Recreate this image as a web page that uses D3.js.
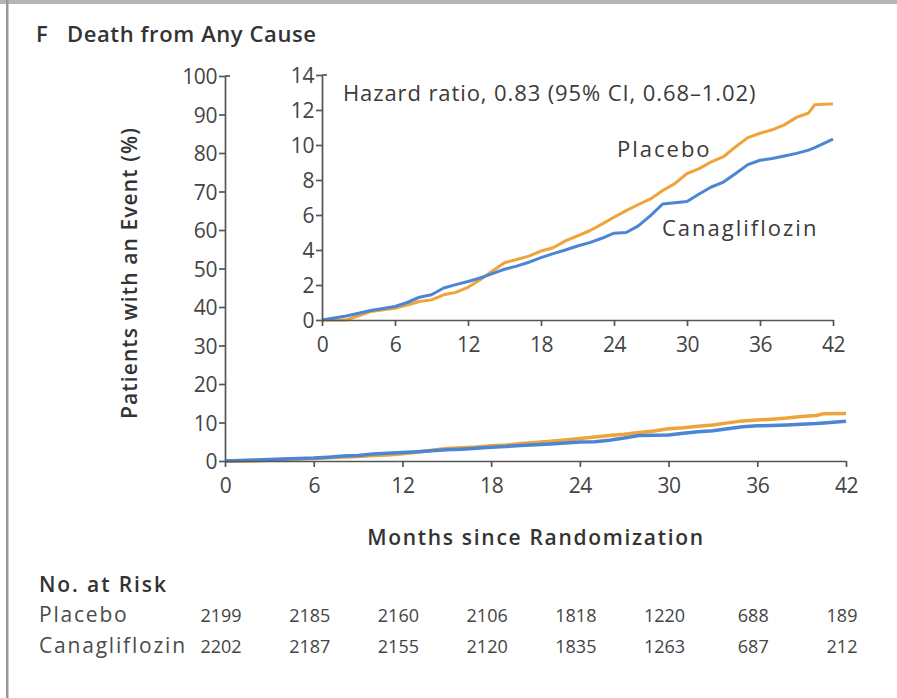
<!DOCTYPE html>
<html>
<head>
<meta charset="utf-8">
<script src="https://cdnjs.cloudflare.com/ajax/libs/d3/7.8.5/d3.min.js"></script>
<style>
  body { margin: 0; background: #fff; }
  svg text { fill: #333; }
  .title { font-family: "Open Sans", sans-serif; font-weight: 600; font-size: 22px; letter-spacing: 0.6px; }
  .lab { font-family: "Open Sans", sans-serif; font-weight: 600; font-size: 21px; letter-spacing: 1.5px; }
  .note { font-family: "Open Sans", sans-serif; font-size: 22px; letter-spacing: 0.9px; fill: #3a3a3a; }
  .grp { font-family: "Open Sans", sans-serif; font-size: 22px; letter-spacing: 2px; fill: #3a3a3a; }
  .row { font-family: "Open Sans", sans-serif; font-size: 21px; letter-spacing: 1.8px; fill: #4a4a4a; }
  .num { font-family: "Open Sans", sans-serif; font-size: 18px; fill: #444; }
  .axis path, .axis line { stroke: #555; stroke-width: 1.7; }
  .axis text { font-family: "Open Sans", sans-serif; font-size: 21px; fill: #444; letter-spacing: -0.4px; }
</style>
</head>
<body>
<div id="chart"></div>
<script>
// months and cumulative incidence (%)
var months = [0, 2, 4, 6, 7, 8, 9, 10, 11, 12, 13, 14, 15, 16, 17, 18, 19, 20, 21, 22, 23, 24,
              25, 26, 27, 28, 29, 30, 31, 32, 33, 34, 35, 36, 37, 38, 39, 40, 40.5, 42];
var placebo = [0, 0, 0.48, 0.67, 0.85, 1.06, 1.15, 1.44, 1.58, 1.87, 2.3, 2.8, 3.27, 3.46, 3.65, 3.94, 4.13, 4.52,
               4.81, 5.1, 5.48, 5.87, 6.25, 6.6, 6.92, 7.4, 7.79, 8.37, 8.65, 9.04, 9.33, 9.9, 10.42, 10.67,
               10.87, 11.15, 11.58, 11.83, 12.3, 12.35];
var cana = [0, 0.23, 0.54, 0.77, 1.0, 1.3, 1.44, 1.83, 2.02, 2.2, 2.4, 2.65, 2.9, 3.08, 3.3, 3.56, 3.79, 4.0,
            4.23, 4.42, 4.67, 4.96, 5.0, 5.38, 5.96, 6.63, 6.7, 6.77, 7.2, 7.6, 7.88, 8.37, 8.88, 9.13,
            9.23, 9.37, 9.52, 9.71, 9.85, 10.33];

var xTicks = [0, 6, 12, 18, 24, 30, 36, 42];
var mainYTicks = [0, 10, 20, 30, 40, 50, 60, 70, 80, 90, 100];
var insetYTicks = [0, 2, 4, 6, 8, 10, 12, 14];

var riskGroups = ["Placebo", "Canagliflozin"];
var riskPlacebo = [2199, 2185, 2160, 2106, 1818, 1220, 688, 189];
var riskCana = [2202, 2187, 2155, 2120, 1835, 1263, 687, 212];

var colors = {placebo: "#eea43b", cana: "#4a86d4"};

var width = 897, height = 698;
var svg = d3.select("#chart").append("svg")
    .attr("width", width)
    .attr("height", height);

// panel frame (top and left rule)
svg.append("rect").attr("x", 0).attr("y", 0).attr("width", width).attr("height", 4).attr("fill", "#b5b5b5");
svg.append("rect").attr("x", 6).attr("y", 0).attr("width", 2.5).attr("height", height).attr("fill", "#9a9a9a");

svg.append("text").attr("class", "title").attr("x", 36).attr("y", 42).text("F");
svg.append("text").attr("class", "title").attr("x", 67).attr("y", 42).text("Death from Any Cause");

function series(vals) {
    return months.map(function(m, i) { return {t: m, v: vals[i]}; });
}

function drawPanel(g, x, y, yTicks, lw) {
    var xAxis = d3.axisBottom(x).tickValues(xTicks).tickSize(6).tickSizeOuter(0).tickPadding(5);
    var yAxis = d3.axisLeft(y).tickValues(yTicks).tickSize(6).tickSizeOuter(0).tickPadding(2);

    var line = d3.line()
        .x(function(d) { return x(d.t); })
        .y(function(d) { return y(d.v); });

    g.append("path").datum(series(placebo))
        .attr("fill", "none").attr("stroke", colors.placebo)
        .attr("stroke-width", lw).attr("stroke-linejoin", "round")
        .attr("d", line);
    g.append("path").datum(series(cana))
        .attr("fill", "none").attr("stroke", colors.cana)
        .attr("stroke-width", lw).attr("stroke-linejoin", "round")
        .attr("d", line);

    var xa = g.append("g").attr("class", "axis")
        .attr("transform", "translate(0," + y.range()[0] + ")")
        .call(xAxis);
    xa.selectAll(".tick text").attr("dy", "1em");

    var ya = g.append("g").attr("class", "axis")
        .attr("transform", "translate(" + x.range()[0] + ",0)")
        .call(yAxis);
    ya.selectAll(".tick text").attr("dy", "0.36em");
    // small cap at the top of the y axis
    ya.append("line")
        .attr("x1", 0).attr("x2", 5)
        .attr("y1", y.range()[1]).attr("y2", y.range()[1]);
}

// main panel
var xMain = d3.scaleLinear().domain([0, 42]).range([225, 846]);
var yMain = d3.scaleLinear().domain([0, 100]).range([461, 76]);
drawPanel(svg.append("g"), xMain, yMain, mainYTicks, 3.5);

// inset panel
var xIn = d3.scaleLinear().domain([0, 42]).range([322, 833]);
var yIn = d3.scaleLinear().domain([0, 14]).range([320, 75]);
drawPanel(svg.append("g"), xIn, yIn, insetYTicks, 3);

svg.append("text").attr("class", "lab")
    .attr("transform", "translate(137,273) rotate(-90)")
    .attr("text-anchor", "middle")
    .style("letter-spacing", "1.1px")
    .text("Patients with an Event (%)");

svg.append("text").attr("class", "lab")
    .attr("x", 536).attr("y", 545)
    .attr("text-anchor", "middle")
    .style("letter-spacing", "1.7px")
    .text("Months since Randomization");

svg.append("text").attr("class", "note").attr("x", 343).attr("y", 101)
    .text("Hazard ratio, 0.83 (95% CI, 0.68\u20131.02)");
svg.append("text").attr("class", "grp").attr("x", 617).attr("y", 157).text("Placebo");
svg.append("text").attr("class", "grp").attr("x", 662).attr("y", 236).text("Canagliflozin");

// numbers at risk
svg.append("text").attr("class", "lab").attr("x", 39).attr("y", 592)
    .style("letter-spacing", "1.9px").text("No. at Risk");
var rows = [riskPlacebo, riskCana];
rows.forEach(function(r, i) {
    var yy = 622 + i * 31;
    svg.append("text").attr("class", "row").attr("x", 39).attr("y", yy).text(riskGroups[i]);
    svg.selectAll(null).data(r).enter().append("text")
        .attr("class", "num")
        .attr("x", function(d, j) { return xMain(xTicks[j]) - 4; })
        .attr("y", yy)
        .attr("text-anchor", "middle")
        .text(function(d) { return d; });
});
</script>
</body>
</html>
